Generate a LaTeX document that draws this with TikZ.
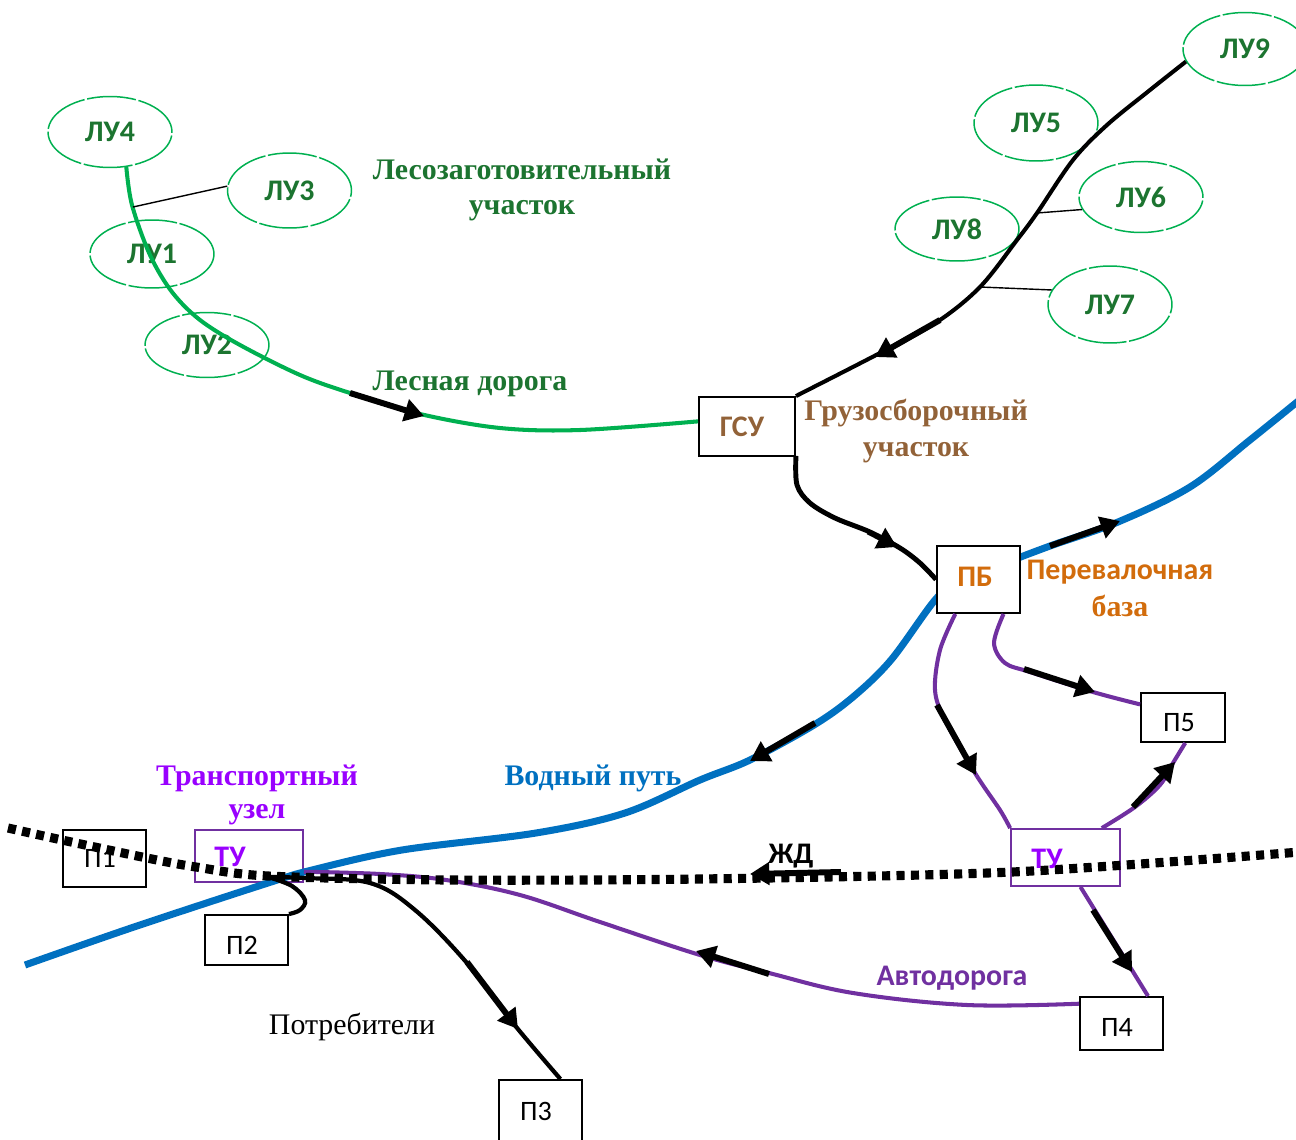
\documentclass[tikz,border=0pt]{standalone}
\usepackage{fontspec}
\setmainfont{Liberation Serif}
\newfontfamily\carl{Carlito}
\usetikzlibrary{arrows.meta,shapes.geometric}
\definecolor{lgreen}{RGB}{0,176,80}
\definecolor{dgreen}{RGB}{28,116,48}
\definecolor{brownc}{RGB}{146,98,56}
\definecolor{orangec}{RGB}{210,108,12}
\definecolor{bluec}{RGB}{0,112,192}
\definecolor{purplec}{RGB}{112,48,160}
\definecolor{violetc}{RGB}{153,0,255}
\begin{document}
\begin{tikzpicture}[x=0.02cm,y=-0.02cm,
  lu/.style={ellipse, draw=lgreen, line width=0.85pt, dash pattern=on 28pt off 1.5pt,
    minimum width=2.48cm, minimum height=1.42cm, inner sep=0pt,
    font=\carl\bfseries\fontsize{17}{20}\selectfont, text=dgreen},
  bx/.style={draw=black, line width=1.1pt, inner sep=0pt, font=\carl\fontsize{16}{19}\selectfont},
  tubox/.style={draw=purplec, line width=1pt, inner sep=0pt},
  lbl/.style={font=\bfseries\fontsize{17}{20}\selectfont, align=center, inner sep=0pt},
  slbl/.style={font=\carl\bfseries\fontsize{17}{20}\selectfont, inner sep=0pt},
  road/.style={draw=lgreen, line width=2.3pt},
  blk/.style={draw=black, line width=2.3pt},
  water/.style={draw=bluec, line width=4pt},
  pur/.style={draw=purplec, line width=2.3pt},
  thinl/.style={draw=black, line width=0.8pt},
  rail/.style={draw=black, line width=5.2pt, dash pattern=on 4.6pt off 3.6pt},
  arr/.style={draw=black, line width=3.4pt, -{Triangle[length=11pt,width=12.5pt]}},
]
\useasboundingbox (0,0) rectangle (1296,1140);

% ellipses
\node[lu] (lu4) at (110,132) {ЛУ4};
\node[lu, minimum height=1.5cm] (lu3) at (289.5,190.5) {ЛУ3};
\node[lu, minimum height=1.36cm] (lu1) at (152,254) {ЛУ1};
\node[lu, minimum height=1.3cm] (lu2) at (207,345) {ЛУ2};
\node[lu, minimum height=1.46cm] (lu9) at (1245,49) {ЛУ9};
\node[lu, minimum height=1.52cm] (lu5) at (1036,123) {ЛУ5};
\node[lu] (lu6) at (1141,197) {ЛУ6};
\node[lu, minimum height=1.28cm] (lu8) at (957,229) {ЛУ8};
\node[lu, minimum height=1.54cm] (lu7) at (1110,304.5) {ЛУ7};

% boxes
\node[bx, minimum width=1.92cm, minimum height=1.18cm] (gsu) at (747,426.5) {};
\node[bx, minimum width=1.66cm, minimum height=1.14cm] (p1) at (104.5,858.5) {};
\node[bx, minimum width=1.66cm, minimum height=1.0cm] (p2) at (246.5,940) {};
\node[bx, minimum width=1.66cm, minimum height=1.4cm] (p3) at (540.5,1115) {};
\node[bx, minimum width=1.66cm, minimum height=1.06cm] (p4) at (1121.5,1023.5) {};
\node[bx, minimum width=1.68cm, minimum height=0.98cm] (p5) at (1183,717.5) {};
\node[tubox, minimum width=2.16cm, minimum height=1.04cm] (tuL) at (249,856) {};
\node[tubox, minimum width=2.18cm, minimum height=1.14cm] (tuR) at (1065.5,857.5) {};

\coordinate (wE) at (1302,398);
\coordinate (wW) at (25,965);
\coordinate (rW) at (8,828);
\coordinate (rE) at (1300,852);
\coordinate (hub) at (268,877);

% water way
\draw[water] plot[smooth, tension=0.55] coordinates {(wE) (1250,440) (1190,487) (1118,522) (1050,546) (1000,565) (958,582) (935,600) (891,660) (853,697) (814,725) (750,760) (700,780) (625,813) (536,833) (402,850) (312,870) (268,883) (134,927) (wW)};
\draw[arr] (1050,546) -- (1120,521);
\draw[arr] (815,723) -- (750,761);

% PB box over water
\node[bx, fill=white, minimum width=1.66cm, minimum height=1.34cm] (pb) at (978.5,579.5) {};

% forest road
\draw[road] plot[smooth, tension=0.55] coordinates {(lu4.-65) (132,205) (150,255) (172,292) (200,320) (240,345) (300,375) (350,393) (420,414) (500,428) (580,430) (gsu.174)};
\draw[arr] (350,393) -- (424,416);
\draw[thinl] (133,207) -- (lu3.176);

% right forest route
\draw[blk] plot[smooth, tension=0.55] coordinates {(lu9.192) (1150,90) (1107,125) (1073,160) (1037,213) (1017,240) (980,287) (937,322) (880,353) (gsu.north east)};
\draw[arr] (940,320) -- (875,357);
\draw[thinl] (1037,213) -- (lu6.192);
\draw[thinl] (980,287) -- (lu7.166);

% GSU -> PB
\draw[blk, line width=2.8pt] plot[smooth, tension=0.55] coordinates {(gsu.-31) (797,485) (810,503) (835,518) (870,532) (900,548) (920,563) (pb.west)};
\draw[arr, line width=2.8pt] (868,532) -- (897,547);

% purple roads
\draw[pur] plot[smooth, tension=0.55] coordinates {(pb.-124) (940,650) (935,690) (945,720) (975,773) (1000,810) (tuR.north west)};
\draw[arr] (937,705) -- (976,775);
\draw[pur] plot[smooth, tension=0.55] coordinates {(pb.-54) (994,643) (1005,663) (1030,672) (1093,692) (p5.163)};
\draw[arr] (1024,669) -- (1095,692);
\draw[pur] plot[smooth, tension=0.55] coordinates {(tuR.39.6) (1135,807) (1160,785) (1173,763) (p5.-85)};
\draw[arr] (1133,807) -- (1175,762);
\draw[pur] (tuR.-63) -- (p4.46);
\draw[arr] (1093,910) -- (1132,972);
\draw[pur] plot[smooth, tension=0.6] coordinates {(p4.155) (967,1005) (853,993) (769,973) (700,955) (600,922) (520,895) (446,880) (380,874) (tuL.-16)};
\draw[arr] (769,974) -- (696,951);

% black routes from left TU
\draw[blk, line width=2.4pt] plot[smooth, tension=0.6] coordinates {(hub) (305,878) (370,883) (415,910) (467,963) (513,1023) (p3.61)};
\draw[arr] (467,962) -- (518,1029);
\draw[blk, line width=2.4pt] plot[smooth, tension=0.6] coordinates {(hub) (292,886) (305,900) (300,910) (p2.north east)};

% railway
\draw[rail] plot[smooth, tension=0.5] coordinates {(rW) (62,840) (147,858) (196,867) (268,876) (450,880) (700,879) (1012,872) (rE)};
\draw[arr] (841,872) -- (750,874);

% texts
\node[slbl, text=brownc] at (742,427) {ГСУ};
\node[slbl, text=orangec] at (975,577) {ПБ};
\node[slbl, text=violetc] at (230,857) {ТУ};
\node[slbl, text=violetc] at (1047,859) {ТУ};
\node[slbl] at (791,856) {ЖД};
\node[slbl, text=purplec] at (952,978) {Автодорога};
\node[slbl, text=orangec] at (1120,572) {Перевалочная};
\node[lbl, text=orangec] at (1120,606) {база};
\node[lbl, text=dgreen] at (522,190) {Лесозаготовительный\\участок};
\node[lbl, text=dgreen] at (470,384) {Лесная дорога};
\node[lbl, text=brownc] at (916,431) {Грузосборочный\\участок};
\node[lbl, text=bluec] at (593,778) {Водный путь};
\node[lbl, text=violetc] at (257,778) {Транспортный};
\node[lbl, text=violetc] at (257,815) {узел};
\node[font=\fontsize{17}{20}\selectfont, inner sep=0pt] at (352,1027) {Потребители};
\node[bx, draw=none] at (100,858) {П1};
\node[bx, draw=none] at (242,945) {П2};
\node[bx, draw=none] at (536,1111) {П3};
\node[bx, draw=none] at (1117,1027) {П4};
\node[bx, draw=none] at (1179,723) {П5};
\end{tikzpicture}
\end{document}
